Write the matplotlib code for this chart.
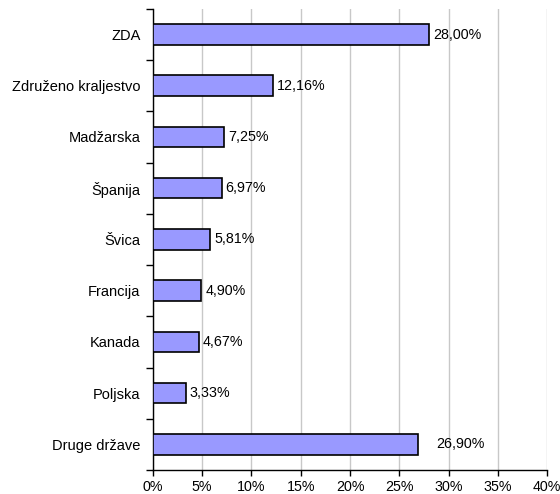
import matplotlib
matplotlib.use("Agg")
import matplotlib.pyplot as plt
from matplotlib.ticker import MultipleLocator, FuncFormatter

countries = ["ZDA", "Združeno kraljestvo", "Madžarska", "Španija", "Švica",
             "Francija", "Kanada", "Poljska", "Druge države"]
shares = [28.00, 12.16, 7.25, 6.97, 5.81, 4.90, 4.67, 3.33, 26.90]
label_offsets = [3, 3, 3, 3, 3, 3, 3, 3, 13]

plt.rcParams['font.family'] = ['Liberation Sans', 'DejaVu Sans']

fig = plt.figure(figsize=(5.6, 4.94), dpi=100)
ax = fig.add_axes([0.273, 0.0486, 0.704, 0.9334])

n = len(countries)
ypos = list(range(n))
ax.barh(ypos, shares, height=0.4, color="#9999FF", edgecolor="black",
        linewidth=1.2, zorder=3)
ax.set_ylim(n - 0.5, -0.5)
ax.set_xlim(0, 40)

for y, v, off in zip(ypos, shares, label_offsets):
    ax.annotate(f"{v:.2f}%".replace(".", ","), xy=(v, y), xytext=(off, 0),
                textcoords="offset points", va="center", ha="left",
                fontsize=10.3, zorder=4)

ax.set_yticks(ypos)
ax.set_yticklabels(countries, fontsize=10.5)
ax.tick_params(axis='y', which='major', length=0, pad=9)
ax.set_yticks([i - 0.5 for i in range(n + 1)], minor=True)
ax.tick_params(axis='y', which='minor', length=5, width=1, direction='out')

ax.xaxis.set_major_locator(MultipleLocator(5))
ax.xaxis.set_major_formatter(FuncFormatter(lambda x, p: f"{int(round(x))}%"))
ax.tick_params(axis='x', length=4, width=1, labelsize=10.3, direction='out')
ax.grid(axis='x', color="#C8C8C8", linewidth=1, zorder=0)

ax.spines['top'].set_visible(False)
ax.spines['right'].set_visible(False)
ax.spines['left'].set_linewidth(1)
ax.spines['bottom'].set_linewidth(1)

fig.savefig("out.png", dpi=100)
